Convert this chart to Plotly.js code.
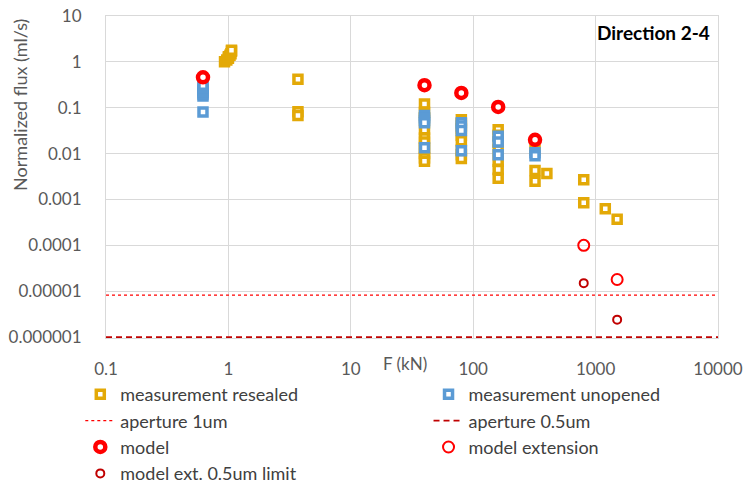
<!DOCTYPE html>
<html>
<head>
<meta charset="utf-8">
<script src="https://cdn.plot.ly/plotly-3.0.1.min.js"></script>
<style>html,body{margin:0;padding:0;background:#fff;}#chart{width:747px;height:486px;}</style>
</head>
<body>
<div id="chart"></div>
<script>
// ---- data ----
const resealedX = [0.93, 0.97, 1.0, 1.0, 1.03, 1.05, 1.06, 1.06,
  3.7, 3.7, 3.7,
  40, 40, 40, 40, 40, 40, 40, 40, 40, 40,
  80, 80, 80, 80, 80, 80, 80, 80,
  160, 160, 160, 160, 160, 160, 160,
  320, 320, 320, 400,
  800, 800, 1200, 1500];
const resealedY = [1.0, 1.1, 1.2, 1.3, 1.4, 1.5, 1.7, 1.8,
  0.42, 0.082, 0.068,
  0.12, 0.08, 0.06, 0.033, 0.022, 0.018, 0.013, 0.01, 0.008, 0.0068,
  0.055, 0.045, 0.035, 0.025, 0.019, 0.012, 0.0095, 0.0078,
  0.033, 0.025, 0.018, 0.012, 0.0068, 0.0045, 0.0029,
  0.012, 0.0043, 0.0025, 0.0037,
  0.0027, 0.00085, 0.00063, 0.00037];
const unopenedX = [0.62, 0.62, 0.62, 0.62, 0.62, 0.62, 0.62,
  40, 40, 40, 40, 40,
  80, 80, 80, 80,
  160, 160, 160,
  320, 320];
const unopenedY = [0.081, 0.18, 0.2, 0.22, 0.24, 0.27, 0.31,
  0.068, 0.06, 0.053, 0.047, 0.0135,
  0.047, 0.04, 0.032, 0.0116,
  0.024, 0.018, 0.0095,
  0.0105, 0.009];
const apertureX = [0.1, 10000];
const aperture1um = [8.2e-6, 8.2e-6];
const aperture05um = [1e-6, 1e-6];
const modelX = [0.62, 40, 80, 160, 320];
const modelY = [0.46, 0.31, 0.21, 0.104, 0.02];
const extX = [800, 1500];
const extY = [1e-4, 1.8e-5];
const limX = [800, 1500];
const limY = [1.5e-5, 2.4e-6];
const yTickVals = [1e-6, 1e-5, 1e-4, 1e-3, 1e-2, 0.1, 1, 10];
const yTickText = ['0.000001', '0.00001', '0.0001', '0.001', '0.01', '0.1', '1', '10'];
const xTickVals = [0.1, 1, 10, 100, 1000, 10000];
const xTickText = ['0.1', '1', '10', '100', '1000', '10000'];

const FONT = 'Lato, "Liberation Sans", sans-serif';
const gold = '#e3a907';
const blue = '#5b9bd5';

const traces = [
  {x: resealedX, y: resealedY, name: 'measurement resealed', type: 'scatter', mode: 'markers',
   legend: 'legend', legendgroup: 'g1',
   marker: {symbol: 'square', size: 8, color: '#ffffff', line: {color: gold, width: 3.5}}},
  {x: unopenedX, y: unopenedY, name: 'measurement unopened', type: 'scatter', mode: 'markers',
   legend: 'legend2', legendgroup: 'g2',
   marker: {symbol: 'square', size: 8, color: '#ffffff', line: {color: blue, width: 3.5}}},
  {x: apertureX, y: aperture1um, name: 'aperture 1um', type: 'scatter', mode: 'lines',
   legend: 'legend', legendgroup: 'g3',
   line: {color: '#ff0000', width: 1.3, dash: '3px,3px'}},
  {x: apertureX, y: aperture05um, name: 'aperture 0.5um', type: 'scatter', mode: 'lines',
   legend: 'legend2', legendgroup: 'g4',
   line: {color: '#c00000', width: 1.6, dash: '6px,4px'}},
  {x: modelX, y: modelY, name: 'model', type: 'scatter', mode: 'markers',
   legend: 'legend', legendgroup: 'g5',
   marker: {symbol: 'circle', size: 10, color: '#ffffff', line: {color: '#ff0000', width: 4.5}}},
  {x: extX, y: extY, name: 'model extension', type: 'scatter', mode: 'markers',
   legend: 'legend2', legendgroup: 'g6',
   marker: {symbol: 'circle', size: 11, color: 'rgba(255,255,255,0)', line: {color: '#ff0000', width: 2}}},
  {x: limX, y: limY, name: 'model ext. 0.5um limit', type: 'scatter', mode: 'markers',
   legend: 'legend', legendgroup: 'g7',
   marker: {symbol: 'circle', size: 8, color: 'rgba(255,255,255,0)', line: {color: '#c00000', width: 2}}}
];

const legendCommon = {orientation: 'v', xanchor: 'left', yanchor: 'top', y: -0.118,
  traceorder: 'normal', tracegroupgap: 0, itemwidth: 30,
  font: {family: FONT, size: 18, color: '#404040'}, bgcolor: 'rgba(0,0,0,0)'};

const layout = {
  width: 747, height: 486,
  margin: {l: 106, r: 29, t: 16, b: 148, autoexpand: false},
  paper_bgcolor: '#ffffff', plot_bgcolor: '#ffffff',
  font: {family: FONT, size: 17, color: '#595959'},
  showlegend: true,
  xaxis: {type: 'log', range: [-1, 4], tickvals: xTickVals, ticktext: xTickText,
    showgrid: true, gridcolor: '#d9d9d9', gridwidth: 1, zeroline: false,
    showline: true, linecolor: '#d9d9d9', linewidth: 1, mirror: true, layer: 'below traces',
    ticks: '', ticklabelstandoff: 16, tickfont: {size: 17, color: '#595959'}},
  yaxis: {type: 'log', range: [-6.02, 1], tickvals: yTickVals, ticktext: yTickText,
    showgrid: true, gridcolor: '#d9d9d9', gridwidth: 1, zeroline: false,
    showline: true, linecolor: '#d9d9d9', linewidth: 1, mirror: true, layer: 'below traces',
    ticks: '', ticklabelstandoff: 20, tickfont: {size: 17, color: '#595959'}},
  legend: Object.assign({}, legendCommon, {x: -0.042}),
  legend2: Object.assign({}, legendCommon, {x: 0.527}),
  annotations: [
    {text: '<b>Direction 2-4</b>', xref: 'paper', yref: 'paper', x: 0.99, y: 0.95,
     xanchor: 'right', yanchor: 'middle', showarrow: false,
     font: {family: FONT, size: 19, color: '#000000'}},
    {text: 'F (kN)', xref: 'paper', yref: 'paper', x: 0.489, y: -0.078,
     xanchor: 'center', yanchor: 'middle', showarrow: false,
     font: {family: FONT, size: 17, color: '#595959'}},
    {text: 'Normalized flux (ml/s)', xref: 'paper', yref: 'paper', x: -0.1405, y: 0.724,
     xanchor: 'center', yanchor: 'middle', textangle: -90, showarrow: false,
     font: {family: FONT, size: 18, color: '#595959'}}
  ]
};

Plotly.newPlot('chart', traces, layout, {displayModeBar: false, staticPlot: true});
</script>
</body>
</html>
